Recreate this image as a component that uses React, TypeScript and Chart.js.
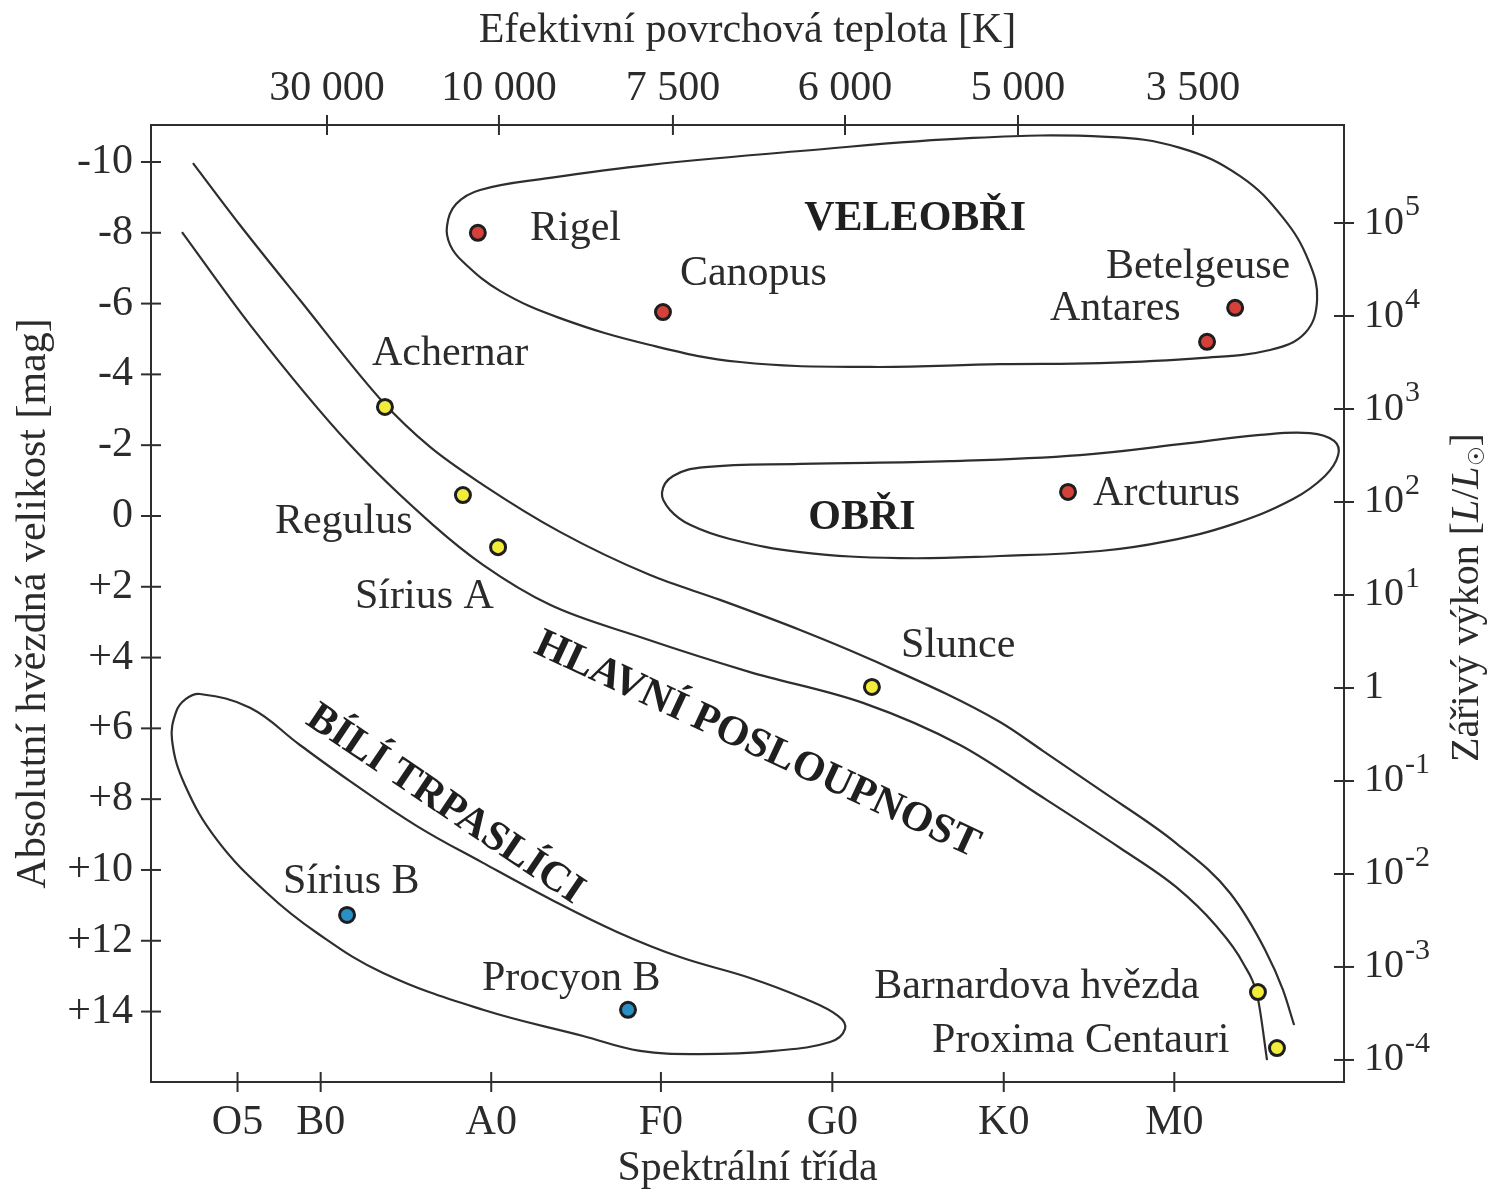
import React, { useEffect, useRef } from 'react';
import { Chart, registerables } from 'chart.js';

Chart.register(...registerables);

const FONT = "'Liberation Serif', 'DejaVu Serif', serif";
const INK = '#2b2b2b';
const LINE = '#2e2e2e';

// ---- axes ----
const spectralLabels = ['O5', 'B0', 'A0', 'F0', 'G0', 'K0', 'M0'];
const spectralPos = [5.2, 10.05, 20, 29.9, 39.9, 49.9, 59.85];
const temperatureLabels = ['30 000', '10 000', '7 500', '6 000', '5 000', '3 500'];
const temperaturePos = [10.42, 20.45, 30.6, 40.64, 50.73, 60.94];
const magnitudeTicks = [-10, -8, -6, -4, -2, 0, 2, 4, 6, 8, 10, 12, 14];
const luminosityExponents = [-4, -3, -2, -1, 0, 1, 2, 3, 4, 5];

// ---- main sequence boundaries ----
const msUpperX = [2.6, 5.34, 8.84, 13.68, 16.43, 19.52, 24.01, 29.27, 33.35, 38.02, 42.22, 49.68, 52.14, 55.52, 59.95, 63.1, 65.15, 66.19, 66.84];
const msUpperMag = [-9.97, -8.22, -6.1, -3.22, -1.95, -0.88, 0.45, 1.67, 2.37, 3.22, 4.07, 5.82, 6.62, 7.74, 9.24, 10.65, 12.26, 13.39, 14.38];
const msLowerX = [1.96, 5.93, 11.76, 16.6, 19.52, 23.43, 28.68, 35.1, 41.69, 47.35, 52.14, 56.69, 59.95, 62.23, 63.86, 64.74, 65.26];
const msLowerMag = [-8.02, -5.4, -2.01, 0.25, 1.38, 2.51, 3.42, 4.41, 5.28, 6.47, 7.94, 9.38, 10.48, 11.55, 12.63, 13.67, 15.37];

// ---- closed regions ----
const superGiantX = [17.42, 17.95, 19.35, 23.43, 29.27, 38.02, 48.11, 55.93, 60.19, 63.69, 66.2, 67.71, 68.18, 67.48, 65.43, 61.35, 55.52, 49.68, 42.09, 34.51, 29.27, 24.01, 20.51, 18.35, 17.6];
const superGiantMag = [-8.19, -8.81, -9.21, -9.55, -9.92, -10.31, -10.68, -10.71, -10.4, -9.6, -8.42, -7.18, -6.1, -5.17, -4.69, -4.46, -4.32, -4.29, -4.21, -4.35, -4.83, -5.59, -6.36, -7.18, -7.66];
const giantX = [29.96, 30.61, 32.47, 38.02, 46.77, 54.35, 60.19, 64.86, 67.77, 69.17, 69.41, 68.64, 66.78, 63.28, 59.43, 55.52, 49.68, 43.85, 38.02, 33.93, 31.6, 30.43];
const giantMag = [-0.65, -1.13, -1.38, -1.47, -1.55, -1.72, -2.03, -2.29, -2.34, -2.12, -1.72, -1.13, -0.48, 0.23, 0.71, 0.99, 1.13, 1.19, 1.02, 0.65, 0.25, -0.17];
const whiteDwarfX = [3.01, 5.93, 8.84, 11.76, 15.67, 19.52, 23.43, 27.34, 31.01, 35.1, 38.31, 40.23, 40.64, 39.77, 36.5, 32.18, 28.68, 25.36, 19.52, 13.69, 9.84, 6.92, 4.0, 2.13, 1.38, 1.61, 2.19];
const whiteDwarfMag = [5.03, 5.42, 6.47, 7.49, 8.76, 9.8, 10.82, 11.75, 12.46, 13.05, 13.64, 14.12, 14.49, 14.86, 15.11, 15.2, 15.11, 14.69, 13.95, 12.91, 11.78, 10.65, 9.15, 7.6, 6.33, 5.54, 5.17];

// ---- stars ----
const starNames = ['Rigel', 'Canopus', 'Betelgeuse', 'Antares', 'Achernar', 'Regulus', 'Sírius A', 'Arcturus', 'Slunce', 'Sírius B', 'Procyon B', 'Barnardova hvězda', 'Proxima Centauri'];
const starX = [19.22, 30.02, 63.4, 61.76, 13.8, 18.35, 20.4, 53.65, 42.21, 11.59, 27.98, 64.73, 65.84];
const starMag = [-8.0, -5.76, -5.88, -4.92, -3.08, -0.59, 0.88, -0.68, 4.83, 11.27, 13.95, 13.45, 15.03];
const starKind = ['red', 'red', 'red', 'red', 'yellow', 'yellow', 'yellow', 'red', 'yellow', 'blue', 'blue', 'yellow', 'yellow'];
const starLabelX = [22.26, 31.01, 55.86, 52.6, 13.04, 7.38, 12.05, 55.11, 43.91, 7.85, 19.46, 42.34, 45.72];
const starLabelMag = [-7.8, -6.53, -6.72, -5.54, -4.27, 0.48, 2.6, -0.31, 3.98, 10.65, 13.39, 13.62, 15.14];

// ---- region names ----
const regionNames = ['VELEOBŘI', 'OBŘI', 'HLAVNÍ POSLOUPNOST', 'BÍLÍ TRPASLÍCI'];
const regionX = [44.73, 41.63, 35.51, 17.3];
const regionMag = [-8.39, 0.06, 6.47, 8.16];
const regionAngle = [0, 0, 25, 34];

const kindColor: Record<string, string> = { red: '#d4403a', yellow: '#f2ec3a', blue: '#2a8fc3' };

const pts = (xs: number[], ys: number[]) => xs.map((x, i) => ({ x, y: ys[i] }));
const loopPts = (xs: number[], ys: number[]) => {
  const p = pts(xs, ys);
  const n = p.length;
  return [p[n - 1], ...p, p[0], p[1]];
};

const openCurve = (data: any[]) => ({
  data,
  showLine: true,
  borderColor: LINE,
  borderWidth: 2.2,
  pointRadius: 0,
  pointHoverRadius: 0,
  cubicInterpolationMode: 'monotone',
  fill: false,
  order: 1,
});

const closedCurve = (data: any[]) => {
  const n = data.length - 3;
  return {
    data,
    showLine: true,
    borderColor: LINE,
    borderWidth: 2.2,
    pointRadius: 0,
    pointHoverRadius: 0,
    tension: 0.4,
    fill: false,
    order: 1,
    segment: {
      borderColor: (ctx: any) => (ctx.p0DataIndex === 0 || ctx.p0DataIndex === n + 1 ? 'rgba(0,0,0,0)' : undefined),
    },
  };
};

const hrPlugin = {
  id: 'hrDecor',
  afterDatasetsDraw(chart: any) {
    const { ctx, scales } = chart;
    const xs = scales.x;
    const ys = scales.y;
    ctx.save();
    ctx.fillStyle = INK;
    ctx.font = `42px ${FONT}`;
    ctx.textAlign = 'left';
    ctx.textBaseline = 'alphabetic';
    starNames.forEach((name, i) => {
      ctx.fillText(name, xs.getPixelForValue(starLabelX[i]), ys.getPixelForValue(starLabelMag[i]));
    });
    ctx.font = `bold 42px ${FONT}`;
    ctx.fillStyle = '#1f1f1f';
    ctx.textAlign = 'center';
    ctx.textBaseline = 'middle';
    regionNames.forEach((name, i) => {
      ctx.save();
      ctx.translate(xs.getPixelForValue(regionX[i]), ys.getPixelForValue(regionMag[i]));
      ctx.rotate((regionAngle[i] * Math.PI) / 180);
      ctx.fillText(name, 0, 0);
      ctx.restore();
    });
    ctx.restore();
  },
  afterDraw(chart: any) {
    const { ctx, scales, chartArea } = chart;
    ctx.save();
    ctx.strokeStyle = LINE;
    ctx.lineWidth = 2;
    const T = 10;
    const tickH = (scale: any, vals: number[], edge: number) => vals.forEach((v) => {
      const p = scale.getPixelForValue(v);
      ctx.beginPath(); ctx.moveTo(p, edge - T); ctx.lineTo(p, edge + T); ctx.stroke();
    });
    const tickV = (scale: any, vals: number[], edge: number) => vals.forEach((v) => {
      const p = scale.getPixelForValue(v);
      ctx.beginPath(); ctx.moveTo(edge - T, p); ctx.lineTo(edge + T, p); ctx.stroke();
    });
    tickH(scales.x, spectralPos, chartArea.bottom);
    tickH(scales.x2, temperaturePos, chartArea.top);
    tickV(scales.y, magnitudeTicks, chartArea.left);
    tickV(scales.y2, luminosityExponents, chartArea.right);

    // right axis labels 10^n
    ctx.fillStyle = INK;
    ctx.textAlign = 'left';
    ctx.textBaseline = 'middle';
    const lx = chartArea.right + 20;
    luminosityExponents.forEach((e) => {
      const py = scales.y2.getPixelForValue(e);
      ctx.font = `40px ${FONT}`;
      if (e === 0) {
        ctx.fillText('1', lx, py);
        return;
      }
      ctx.fillText('10', lx, py);
      const w = ctx.measureText('10').width;
      ctx.font = `30px ${FONT}`;
      ctx.fillText(String(e), lx + w + 1, py - 16);
    });

    // right axis title (reads bottom to top)
    ctx.save();
    ctx.translate(1478, (chartArea.top + chartArea.bottom) / 2 - 6);
    ctx.rotate(-Math.PI / 2);
    ctx.textBaseline = 'alphabetic';
    const parts: [string, string, number][] = [
      ['Zářivý výkon [', `40px ${FONT}`, 0],
      ['L', `italic 40px ${FONT}`, 0],
      ['/', `40px ${FONT}`, 0],
      ['L', `italic 40px ${FONT}`, 0],
      ['☉', `22px ${FONT}`, 6],
      [']', `40px ${FONT}`, 0],
    ];
    let total = 0;
    parts.forEach(([t, f]) => { ctx.font = f; total += ctx.measureText(t).width; });
    let cx = -total / 2;
    parts.forEach(([t, f, dy]) => {
      ctx.font = f;
      ctx.fillText(t, cx, dy);
      cx += ctx.measureText(t).width;
    });
    ctx.restore();
    ctx.restore();
  },
};

export default function App() {
  const ref = useRef<HTMLCanvasElement>(null);

  useEffect(() => {
    const canvas = ref.current;
    if (!canvas) return;
    const tickFont = { family: FONT, size: 42 };
    const border = { display: true, color: LINE, width: 2 };
    const noGrid = { display: false, drawTicks: false, drawOnChartArea: false };

    const chart = new Chart(canvas, {
      type: 'scatter',
      data: {
        datasets: [
          {
            data: pts(starX, starMag),
            showLine: false,
            pointRadius: 7.5,
            pointHoverRadius: 7.5,
            pointBorderWidth: 3,
            pointBorderColor: '#1e1e1e',
            pointBackgroundColor: starKind.map((k) => kindColor[k]),
            order: -1,
          } as any,
          openCurve(pts(msUpperX, msUpperMag)) as any,
          openCurve(pts(msLowerX, msLowerMag)) as any,
          closedCurve(loopPts(superGiantX, superGiantMag)) as any,
          closedCurve(loopPts(giantX, giantMag)) as any,
          closedCurve(loopPts(whiteDwarfX, whiteDwarfMag)) as any,
        ],
      },
      options: {
        responsive: false,
        maintainAspectRatio: false,
        devicePixelRatio: 1,
        animation: false,
        events: [],
        layout: { padding: 0 },
        plugins: { legend: { display: false }, tooltip: { enabled: false } },
        scales: {
          x: {
            type: 'linear',
            position: 'bottom',
            min: 0.152,
            max: 69.75,
            afterBuildTicks: (s: any) => { s.ticks = spectralPos.map((v) => ({ value: v })); },
            afterFit: (s: any) => { s.height = 112; },
            ticks: {
              autoSkip: false, maxRotation: 0, padding: 16, color: INK, font: tickFont,
              callback: (_v: any, i: number) => spectralLabels[i],
            },
            grid: noGrid,
            border,
            title: { display: true, text: 'Spektrální třída', color: INK, font: tickFont, padding: { top: 0, bottom: 0 } },
          },
          x2: {
            type: 'linear',
            position: 'top',
            min: 0.152,
            max: 69.75,
            afterBuildTicks: (s: any) => { s.ticks = temperaturePos.map((v) => ({ value: v })); },
            afterFit: (s: any) => { s.height = 125; },
            ticks: {
              autoSkip: false, maxRotation: 0, padding: 11, color: INK, font: tickFont,
              callback: (_v: any, i: number) => temperatureLabels[i],
            },
            grid: noGrid,
            border,
            title: { display: true, text: 'Efektivní povrchová teplota [K]', color: INK, font: tickFont, padding: { top: 6, bottom: 0 } },
          },
          y: {
            type: 'linear',
            position: 'left',
            reverse: true,
            min: -11.045,
            max: 15.99,
            afterBuildTicks: (s: any) => { s.ticks = magnitudeTicks.map((v) => ({ value: v })); },
            afterFit: (s: any) => { s.width = 151; },
            ticks: {
              autoSkip: false, padding: 18, color: INK, font: tickFont,
              callback: (v: any) => (Number(v) > 0 ? '+' + v : String(v)),
            },
            grid: noGrid,
            border,
            title: { display: true, text: 'Absolutní hvězdná velikost [mag]', color: INK, font: tickFont, padding: { top: 9, bottom: 0 } },
          },
          y2: {
            type: 'linear',
            position: 'right',
            min: -4.237,
            max: 6.054,
            afterBuildTicks: (s: any) => { s.ticks = luminosityExponents.map((v) => ({ value: v })); },
            afterFit: (s: any) => { s.width = 149; },
            ticks: { display: false },
            grid: noGrid,
            border,
          },
        },
      } as any,
      plugins: [hrPlugin],
    });
    return () => chart.destroy();
  }, []);

  return (
    <div style={{ position: 'absolute', left: 0, top: 0, width: 1493, height: 1194, background: '#ffffff' }}>
      <canvas ref={ref} width={1493} height={1194} style={{ display: 'block', width: 1493, height: 1194 }} />
    </div>
  );
}
